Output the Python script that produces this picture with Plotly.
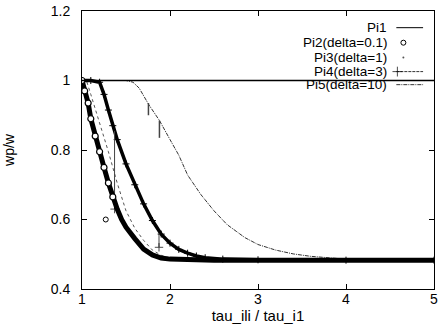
import plotly.graph_objects as go

# ---------------- data ----------------
pi1_x = [1.0, 5.0]
pi1_y = [1.0, 1.0]

pi2_x = [1.00, 1.03, 1.07, 1.10, 1.15, 1.20, 1.25, 1.30, 1.35, 1.40, 1.45, 1.50,
         1.60, 1.70, 1.80, 1.90, 2.00, 2.20, 2.50, 3.00, 4.00, 5.00]
pi2_y = [1.00, 0.97, 0.935, 0.89, 0.84, 0.795, 0.75, 0.705, 0.665, 0.63, 0.60, 0.578,
         0.545, 0.515, 0.498, 0.489, 0.486, 0.484, 0.483, 0.483, 0.483, 0.483]
pi2_out_x = [1.27]
pi2_out_y = [0.60]

pi3_x = [1.00, 1.05, 1.10, 1.15, 1.20, 1.30, 1.40, 1.50, 1.60, 1.70, 1.80, 1.90,
         2.00, 2.20, 2.50, 5.00]
pi3_y = [1.00, 1.00, 0.96, 0.92, 0.88, 0.795, 0.705, 0.625, 0.575, 0.54, 0.512, 0.497,
         0.489, 0.485, 0.483, 0.483]

pi4_x = [1.00, 1.10, 1.20, 1.25, 1.30, 1.35, 1.40, 1.50, 1.60, 1.70, 1.80, 1.90,
         2.00, 2.10, 2.20, 2.30, 2.40, 2.60, 3.00, 4.00, 5.00]
pi4_y = [1.00, 1.00, 0.995, 0.96, 0.915, 0.87, 0.83, 0.76, 0.70, 0.645, 0.597, 0.558,
         0.532, 0.514, 0.503, 0.495, 0.49, 0.486, 0.484, 0.483, 0.483]
pi4_stray1_x = [1.37, 1.37]
pi4_stray1_y = [0.855, 0.63]
pi4_stray2_x = [1.875, 1.875]
pi4_stray2_y = [0.56, 0.52]

pi5_x = [1.00, 1.50, 1.58, 1.65, 1.76, 1.88, 2.00, 2.10, 2.20, 2.35, 2.50, 2.65,
         2.85, 3.00, 3.20, 3.40, 3.60, 3.80, 4.00, 5.00]
pi5_y = [1.00, 1.00, 0.995, 0.978, 0.93, 0.885, 0.83, 0.785, 0.728, 0.672, 0.625, 0.585,
         0.548, 0.528, 0.512, 0.501, 0.494, 0.489, 0.486, 0.484]
pi5_stray1_x = [1.755, 1.755]
pi5_stray1_y = [0.935, 0.90]
pi5_stray2_x = [1.88, 1.88]
pi5_stray2_y = [0.885, 0.835]

legend_labels = ["Pi1", "Pi2(delta=0.1)", "Pi3(delta=1)", "Pi4(delta=3)", "Pi5(delta=10)"]

x_ticks = [1, 2, 3, 4, 5]
y_ticks = [0.4, 0.6, 0.8, 1.0, 1.2]
y_tick_text = ["0.4", "0.6", "0.8", "1", "1.2"]

# ---------------- figure ----------------
FONT = "Liberation Sans, Arial, sans-serif"
fig = go.Figure()

# Pi3 dotted
fig.add_trace(go.Scatter(x=pi3_x, y=pi3_y, mode="lines",
                         line=dict(color="#555555", width=1, dash="dot"), showlegend=False))
# Pi5 dash-dot
pi5_line = dict(color="#333333", width=1, dash="4px,1px,1px,1px")
fig.add_trace(go.Scatter(x=pi5_x, y=pi5_y, mode="lines", line=pi5_line, showlegend=False))
for sx, sy in [(pi5_stray1_x, pi5_stray1_y), (pi5_stray2_x, pi5_stray2_y)]:
    fig.add_trace(go.Scatter(x=sx, y=sy, mode="lines",
                             line=dict(color="#444444", width=1.5), showlegend=False))
# Pi4 band with + markers
fig.add_trace(go.Scatter(x=pi4_x, y=pi4_y, mode="lines+markers",
                         line=dict(color="black", width=3.5),
                         marker=dict(symbol="cross-thin", size=5, color="black",
                                     line=dict(color="black", width=1)),
                         showlegend=False))
for sx, sy in [(pi4_stray1_x, pi4_stray1_y), (pi4_stray2_x, pi4_stray2_y)]:
    fig.add_trace(go.Scatter(x=sx, y=sy, mode="lines+markers",
                             line=dict(color="#444444", width=1),
                             marker=dict(symbol="cross-thin", size=[0, 6], color="black",
                                         line=dict(color="black", width=1)),
                             showlegend=False))
# Pi2 band of circles
fig.add_trace(go.Scatter(x=pi2_x, y=pi2_y, mode="lines",
                         line=dict(color="black", width=5), showlegend=False))
steep = [i for i, v in enumerate(pi2_x) if v <= 1.36]
fig.add_trace(go.Scatter(x=[pi2_x[i] for i in steep], y=[pi2_y[i] for i in steep],
                         mode="markers",
                         marker=dict(symbol="circle", size=6, color="white",
                                     line=dict(color="black", width=1.2)),
                         showlegend=False))
fig.add_trace(go.Scatter(x=pi2_out_x, y=pi2_out_y, mode="markers",
                         marker=dict(symbol="circle-open", size=5, color="black",
                                     line=dict(color="black", width=1)),
                         showlegend=False))
# Pi1 solid horizontal
fig.add_trace(go.Scatter(x=pi1_x, y=pi1_y, mode="lines",
                         line=dict(color="black", width=1.5), showlegend=False))

# ---------------- gnuplot-style key (overlay axes 0..1) ----------------
key_y = [0.940, 0.886, 0.833, 0.782, 0.735]
key_x0, key_x1, key_txt = 0.893, 0.969, 0.871
key_mid = (key_x0 + key_x1) / 2
for lab, ky in zip(legend_labels, key_y):
    fig.add_annotation(x=key_txt, y=ky, xref="x2", yref="y2", text=lab, showarrow=False,
                       xanchor="right", yanchor="middle",
                       font=dict(family=FONT, size=13.5, color="black"))
fig.add_trace(go.Scatter(x=[key_x0, key_x1], y=[key_y[0]] * 2, xaxis="x2", yaxis="y2",
                         mode="lines", line=dict(color="black", width=1), showlegend=False))
fig.add_trace(go.Scatter(x=[key_x0 + 0.02], y=[key_y[1]], xaxis="x2", yaxis="y2",
                         mode="markers",
                         marker=dict(symbol="circle-open", size=5, color="black",
                                     line=dict(color="black", width=1)),
                         showlegend=False))
fig.add_trace(go.Scatter(x=[key_x0 + 0.02], y=[key_y[2]], xaxis="x2", yaxis="y2",
                         mode="markers", marker=dict(symbol="circle", size=2, color="#555555"),
                         showlegend=False))
fig.add_trace(go.Scatter(x=[key_x0, key_mid - 0.035, key_x1], y=[key_y[3]] * 3,
                         xaxis="x2", yaxis="y2", mode="lines+markers",
                         line=dict(color="#333333", width=1, dash="3px,1px"),
                         marker=dict(symbol="cross-thin", size=[0, 7, 0], color="black",
                                     line=dict(color="black", width=1)),
                         showlegend=False))
fig.add_trace(go.Scatter(x=[key_x0, key_x1], y=[key_y[4]] * 2, xaxis="x2", yaxis="y2",
                         mode="lines", line=pi5_line, showlegend=False))

axis_common = dict(showgrid=False, zeroline=False, showline=True, linecolor="black",
                   linewidth=1, mirror="ticks", ticks="inside", ticklen=5,
                   tickcolor="black", tickwidth=1, ticklabeloverflow="allow",
                   tickfont=dict(family=FONT, size=14, color="black"))

fig.update_layout(
    width=441, height=330,
    margin=dict(l=82, r=3, t=10, b=41),
    paper_bgcolor="white", plot_bgcolor="white",
    showlegend=False,
    xaxis=dict(range=[1, 5], tickvals=x_ticks, ticktext=[str(v) for v in x_ticks],
               ticklabelstandoff=-3,
               title=dict(text="tau_ili / tau_i1", standoff=0,
                          font=dict(family=FONT, size=15, color="black")),
               **axis_common),
    yaxis=dict(range=[0.4, 1.2], tickvals=y_ticks, ticktext=y_tick_text,
               ticklabelstandoff=8,
               title=dict(text="wp/w", standoff=32,
                          font=dict(family=FONT, size=14, color="black")),
               **axis_common),
    xaxis2=dict(range=[0, 1], overlaying="x", visible=False),
    yaxis2=dict(range=[0, 1], overlaying="y", visible=False),
)

fig.write_html(
    "out.html",
    config={"displayModeBar": False},
    post_script="document.body.style.margin='0';document.body.style.overflow='hidden';",
)
